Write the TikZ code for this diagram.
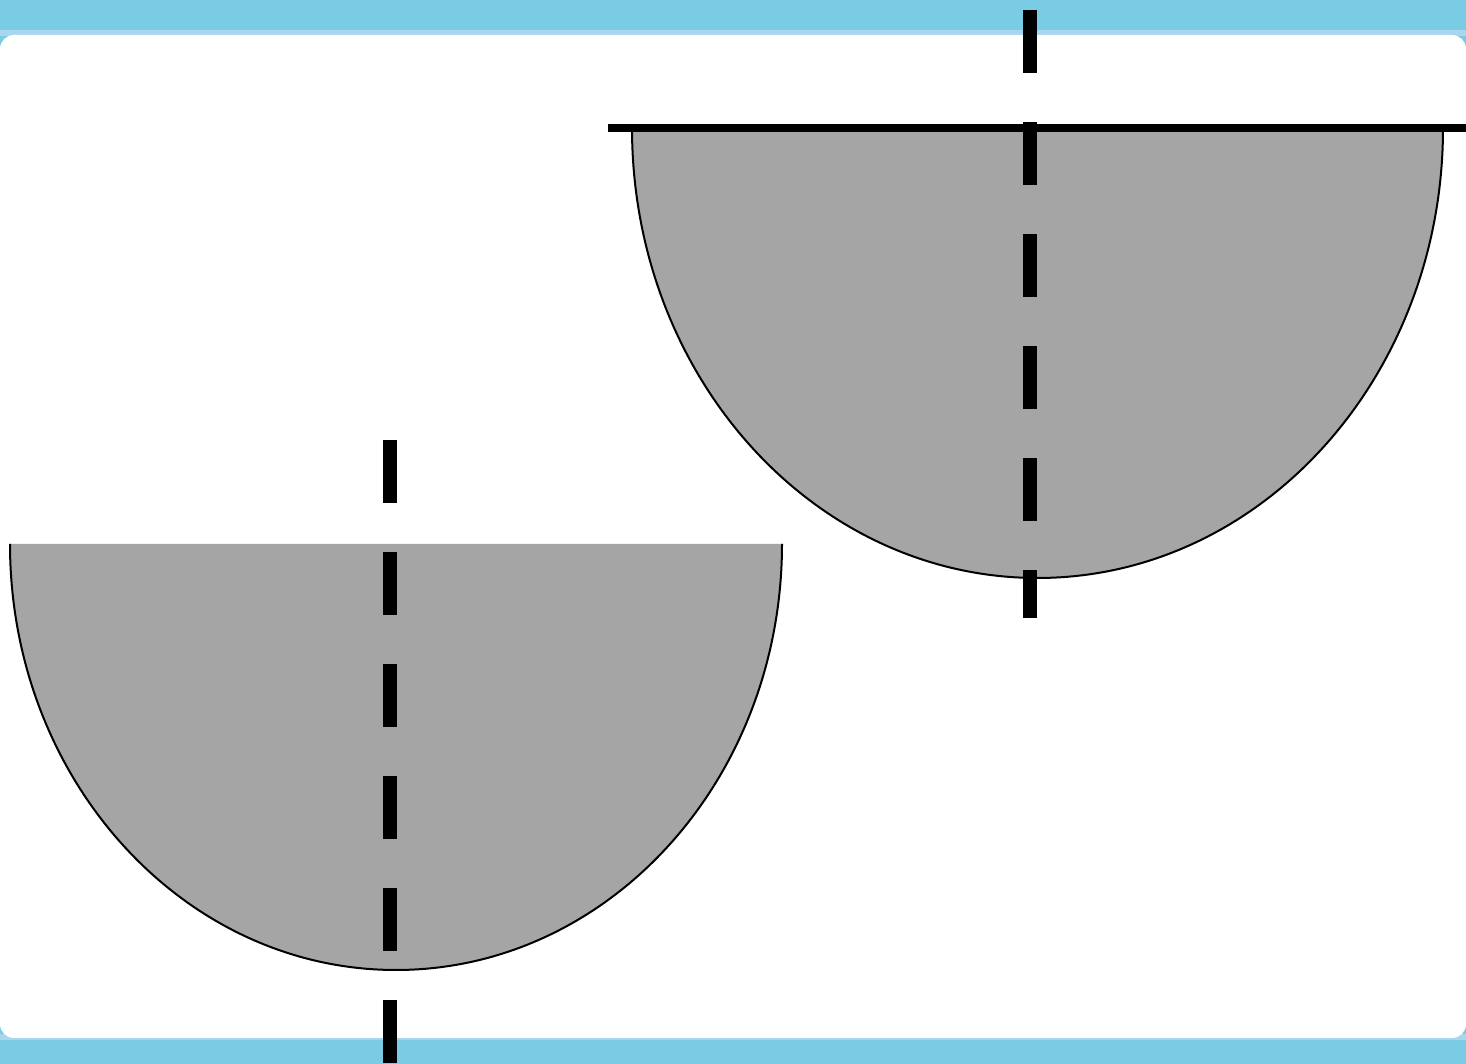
\documentclass[tikz,border=0pt]{standalone}
\definecolor{SlideBlue}{RGB}{122, 204, 228}
\definecolor{SlideEdge}{RGB}{168, 214, 238}
\definecolor{DiscGrey}{RGB}{165, 165, 165}
\usepackage{tikz}
\usetikzlibrary{positioning}

\begin{document}
\begin{tikzpicture}[x=1pt, y=1pt, axisline/.style={line width=14pt, dash pattern=on 63pt off 49pt}]
        \useasboundingbox (0,0) rectangle (1466,1064);
        % slide frame
        \fill[SlideBlue] (0,0) rectangle (1466,1064);
        \fill[SlideEdge] (0,1028) rectangle (1466,1034);
        \fill[SlideEdge] (0,24) rectangle (1466,30);
        \fill[white, rounded corners=14pt] (0,26) rectangle (1466,1029);
        % upper half disc
        \fill[DiscGrey] (632,936) arc[start angle=180, end angle=360, x radius=405.5, y radius=450] -- cycle;
        \draw[line width=2pt] (632,936) arc[start angle=180, end angle=360, x radius=405.5, y radius=450];
        \draw[line width=8pt] (608,936) -- (1466,936);
        \draw[axisline] (1030,1054) -- (1030,446);
        % lower half disc
        \fill[DiscGrey] (10,520) arc[start angle=180, end angle=360, x radius=386, y radius=426] -- cycle;
        \draw[line width=2pt] (10,520) arc[start angle=180, end angle=360, x radius=386, y radius=426];
        \draw[axisline] (390,624) -- (390,0);
    \end{tikzpicture}
\end{document}
